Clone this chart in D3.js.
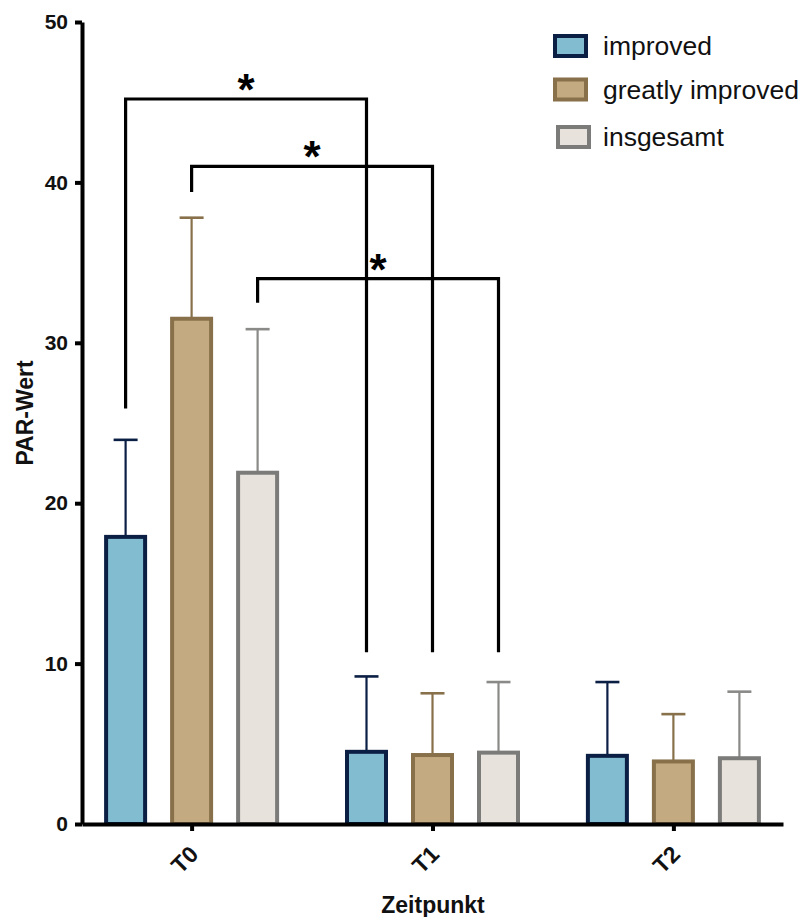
<!DOCTYPE html>
<html>
<head>
<meta charset="utf-8">
<script src="https://cdn.jsdelivr.net/npm/d3@7"></script>
<style>
  body { margin: 0; background: #fff; }
  svg { display: block; font-family: "Liberation Sans", Arial, Helvetica, sans-serif; }
</style>
</head>
<body>
<div id="chart"></div>
<script>
// data
var timepoints = ["T0", "T1", "T2"];
var groups = ["improved", "greatly improved", "insgesamt"];
var means = {
    "improved":         [17.9, 4.5, 4.25],
    "greatly improved": [31.5, 4.3, 3.9],
    "insgesamt":        [21.9, 4.45, 4.1]
};
var upperErr = {
    "improved":         [23.95, 9.2, 8.85],
    "greatly improved": [37.8, 8.15, 6.85],
    "insgesamt":        [30.85, 8.85, 8.25]
};
var yTicks = [0, 10, 20, 30, 40, 50];
// significance brackets: from bar (T0, group) to bar (T1, group)
var brackets = [
    { group: "improved",         from: "T0", to: "T1", top: 45.2, leftEnd: 25.9, rightEnd: 10.7 },
    { group: "greatly improved", from: "T0", to: "T1", top: 41.0, leftEnd: 39.4, rightEnd: 10.7 },
    { group: "insgesamt",        from: "T0", to: "T1", top: 34.0, leftEnd: 32.5, rightEnd: 10.7 }
];

var fills   = { "improved": "#82bcd0", "greatly improved": "#c4aa80", "insgesamt": "#e8e2dc" };
var strokes = { "improved": "#0b1f45", "greatly improved": "#87704a", "insgesamt": "#7b7b79" };
var errCol  = { "improved": "#0b1f45", "greatly improved": "#87704a", "insgesamt": "#8a8a88" };

var width = 803, height = 917;

var svg = d3.select("#chart")
    .append("svg")
    .attr("width", width)
    .attr("height", height);

var x = d3.scalePoint()
    .domain(timepoints)
    .range([82, 783])
    .padding(0.455);

var offset = d3.scalePoint()
    .domain(groups)
    .range([-66, 66]);

var y = d3.scaleLinear()
    .domain([0, 50])
    .range([824, 22]);

var barW = 39;

function cx(t, g) { return x(t) + offset(g); }

// bars
groups.forEach(function (g) {
    var rows = timepoints.map(function (t, i) {
        return { t: t, mean: means[g][i], err: upperErr[g][i] };
    });

    var grp = svg.append("g").attr("class", "series");

    // error bars (upper only)
    grp.selectAll("line.err")
        .data(rows)
        .enter()
        .append("line")
        .attr("x1", d => cx(d.t, g))
        .attr("x2", d => cx(d.t, g))
        .attr("y1", d => y(d.mean))
        .attr("y2", d => y(d.err))
        .attr("stroke", errCol[g])
        .attr("stroke-width", 2.2);

    grp.selectAll("line.cap")
        .data(rows)
        .enter()
        .append("line")
        .attr("x1", d => cx(d.t, g) - 12)
        .attr("x2", d => cx(d.t, g) + 12)
        .attr("y1", d => y(d.err))
        .attr("y2", d => y(d.err))
        .attr("stroke", errCol[g])
        .attr("stroke-width", 2.6);

    grp.selectAll("rect")
        .data(rows)
        .enter()
        .append("rect")
        .attr("x", d => cx(d.t, g) - barW / 2)
        .attr("y", d => y(d.mean))
        .attr("width", barW)
        .attr("height", d => y(0) - y(d.mean))
        .attr("fill", fills[g])
        .attr("stroke", strokes[g])
        .attr("stroke-width", 4);
});

// significance brackets
var bk = svg.append("g").attr("class", "brackets");
brackets.forEach(function (b) {
    var x1 = cx(b.from, b.group), x2 = cx(b.to, b.group);
    bk.append("path")
        .attr("d", d3.line()([[x1, y(b.leftEnd)], [x1, y(b.top)], [x2, y(b.top)], [x2, y(b.rightEnd)]]))
        .attr("fill", "none")
        .attr("stroke", "#000")
        .attr("stroke-width", 3.2);
    bk.append("text")
        .attr("x", (x1 + x2) / 2)
        .attr("y", y(b.top) + 6)
        .attr("text-anchor", "middle")
        .attr("font-size", "44px")
        .attr("font-weight", "bold")
        .attr("fill", "#000")
        .text("*");
});

// axes
var yAxis = d3.axisLeft(y).tickValues(yTicks).tickSize(7).tickSizeOuter(0).tickPadding(7);
var yG = svg.append("g")
    .attr("transform", "translate(82,0)")
    .call(yAxis);
yG.select(".domain").attr("stroke", "#000").attr("stroke-width", 4);
yG.selectAll(".tick line").attr("stroke", "#000").attr("stroke-width", 4);
yG.selectAll(".tick text")
    .attr("font-size", "21px")
    .attr("font-weight", "bold")
    .attr("fill", "#111")
    .attr("font-family", "Liberation Sans, Arial, sans-serif");

var xAxis = d3.axisBottom(x).tickSize(7).tickSizeOuter(0).tickPadding(0);
var xG = svg.append("g")
    .attr("transform", "translate(0,824)")
    .call(xAxis);
xG.select(".domain").attr("stroke", "#000").attr("stroke-width", 4);
xG.selectAll(".tick line").attr("stroke", "#000").attr("stroke-width", 4);
xG.selectAll(".tick text")
    .attr("font-size", "23px")
    .attr("font-weight", "bold")
    .attr("fill", "#111")
    .attr("font-family", "Liberation Sans, Arial, sans-serif")
    .attr("text-anchor", "end")
    .attr("dy", "0.35em")
    .attr("transform", "translate(-3,21) rotate(-45)");

// axis titles
svg.append("text")
    .attr("transform", "translate(33,413) rotate(-90)")
    .attr("text-anchor", "middle")
    .attr("font-size", "23px")
    .attr("font-weight", "bold")
    .attr("fill", "#111")
    .text("PAR-Wert");

svg.append("text")
    .attr("x", 433)
    .attr("y", 913)
    .attr("text-anchor", "middle")
    .attr("font-size", "23px")
    .attr("font-weight", "bold")
    .attr("fill", "#111")
    .text("Zeitpunkt");

// legend
var legendY = [46, 89.5, 137];
var legend = svg.append("g").attr("class", "legend");
groups.forEach(function (g, i) {
    legend.append("rect")
        .attr("x", 555 + (i === 2 ? 3 : 0))
        .attr("y", legendY[i] - 10)
        .attr("width", 31)
        .attr("height", 20)
        .attr("fill", fills[g])
        .attr("stroke", strokes[g])
        .attr("stroke-width", 4);
    legend.append("text")
        .attr("x", 603)
        .attr("y", legendY[i] + 9)
        .attr("font-size", "26.5px")
        .attr("fill", "#111")
        .text(g);
});
</script>
</body>
</html>
